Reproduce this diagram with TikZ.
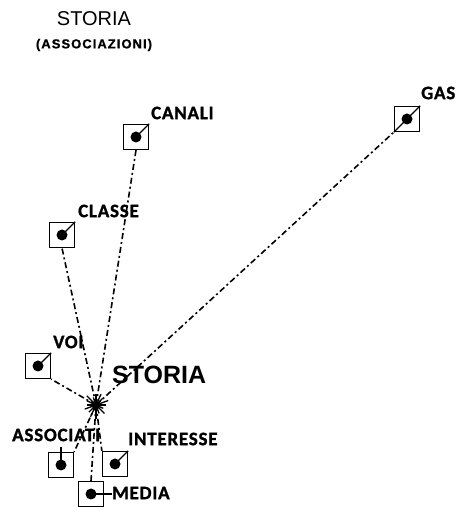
\documentclass[tikz,border=0pt]{standalone}
\usepackage{fontspec}
\setmainfont{Liberation Sans}
\newfontfamily\labfont[LetterSpace=4,FakeBold=1.2]{Carlito}
\newfontfamily\subfont[LetterSpace=8,FakeBold=1]{Liberation Sans}
\begin{document}
\begin{tikzpicture}[x=1pt,y=1pt,
  pbox/.style={draw=black,line width=1.3pt,minimum size=25pt,inner sep=0pt},
  pdot/.style={circle,fill=black,minimum size=11pt,inner sep=0pt},
  tick/.style={line width=1.1pt},
  link/.style={line width=1.6pt,dash pattern=on 6pt off 3pt on 2pt off 3pt},
  lab/.style={font=\labfont\bfseries\fontsize{19}{19}\selectfont,anchor=west,inner sep=0pt},
  ray/.style={line width=1.3pt}]
\useasboundingbox (0,0) rectangle (461,507);
% titles
\node[font=\fontsize{20}{20}\selectfont] (title) at (94,488) {STORIA};
\node[font=\subfont\bfseries\fontsize{13}{13}\selectfont] (subtitle) at (94,462) {(ASSOCIAZIONI)};
\node[font=\bfseries\fontsize{25}{25}\selectfont,anchor=west,inner sep=0pt] (storia) at (112,132) {STORIA};
% hub
\coordinate (hub) at (96,102);
\fill (hub) circle (4.5pt);
\foreach \a/\l in {0/10,20/13,45/9,65/12,90/11,110/8,135/13,155/10,180/9,200/12,225/10,245/13,270/14,290/9,315/12,335/8}
  \draw[ray] (hub) -- ++(\a:\l);
% boxes
\node[pbox] (canali) at (136,370) {};
\node[pbox] (gas) at (407,388) {};
\node[pbox] (classe) at (62,272) {};
\node[pbox] (voi) at (38,141) {};
\node[pbox] (assoc) at (61,42) {};
\node[pbox] (inter) at (115,43) {};
\node[pbox] (media) at (91,13) {};
\foreach \n in {canali,gas,classe,voi,assoc,inter,media}
  \node[pdot] (\n d) at (\n) {};
% ticks
\draw[tick] (canalid.center) -- (canali.north east);
\draw[tick] (gas.south west) -- (gasd.center) -- (gas.north east);
\draw[tick] (classed.center) -- (classe.north east);
\draw[tick] (void.center) -- (voi.north east);
\draw[tick] (interd.center) -- (inter.north east);
\draw[tick] (assocd.center) -- ++(0,18) coordinate (assoctop);
\draw[tick] (mediad.center) -- ++(21,0) coordinate (mediaend);
% labels
\node[lab] (lcanali) at (151,394) {CANALI};
\node[lab] (lgas) at (421,414) {GAS};
\node[lab] (lclasse) at (78,296) {CLASSE};
\node[lab] (lvoi) at (53,165) {VOI};
\node[lab] (lassoc) at (12,72) {ASSOCIATI};
\node[lab] (linter) at (128,68) {INTERESSE};
\node[lab] (lmedia) at (112,14) {MEDIA};
% links
\draw[link] (hub) -- (canali.south);
\draw[link] (hub) -- (gas.south west);
\draw[link] (hub) -- (classe.south);
\draw[link] (hub) -- (voi.south east);
\draw[link] (hub) -- (assoc.north east);
\draw[link] (hub) -- (inter.north west);
\draw[link] (hub) -- (media.north);
\end{tikzpicture}
\end{document}
